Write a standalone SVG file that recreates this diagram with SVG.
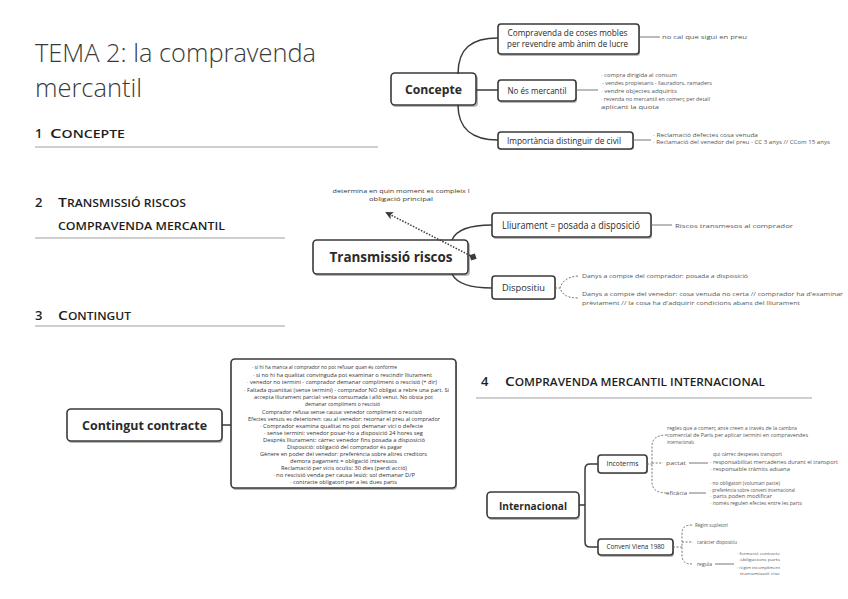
<svg xmlns="http://www.w3.org/2000/svg" width="848" height="599" viewBox="0 0 848 599">
<style>
.title{font-family:"Open Sans","Liberation Sans",sans-serif;font-weight:300;font-size:25px;fill:#3a3a3a}
.h{font-family:"Open Sans","Liberation Sans",sans-serif;font-weight:600;fill:#1e1e1e}
.rule{stroke:#a0a0a0;stroke-width:1.2}
.box{fill:#fff;stroke:#3a3a3a;stroke-width:1.6}
.sh{fill:#b8b8b8}
.lbl{font-family:"Open Sans","Liberation Sans",sans-serif;fill:#2a2a2a;text-anchor:middle}
.b{font-weight:700}
.note{font-family:"Open Sans","Liberation Sans",sans-serif;fill:#555;font-size:5.6px}
.sm{font-size:4.6px}
.xs{font-size:4px}
.body{font-family:"Open Sans","Liberation Sans",sans-serif;fill:#333;font-size:5.6px;text-anchor:middle}
.conn{fill:none;stroke:#3a3a3a;stroke-width:1.5}
.thin{fill:none;stroke:#666;stroke-width:0.9}
.dash{fill:none;stroke:#666;stroke-width:0.9;stroke-dasharray:2 1.6}
</style>
<defs>
<marker id="arr" markerWidth="8" markerHeight="8" refX="6" refY="4" orient="auto" markerUnits="userSpaceOnUse">
<path d="M0,0 L8,4 L0,8 L2,4 Z" fill="#3a3a3a"/>
</marker>
<marker id="dot" markerWidth="8" markerHeight="8" refX="4" refY="4" orient="auto" markerUnits="userSpaceOnUse">
<path d="M4,0 L8,4 L4,8 L0,4 Z" fill="#3a3a3a"/>
</marker>
</defs>

<!-- Page text -->
<g id="page">
<text class="title" x="35" y="62" textLength="281" lengthAdjust="spacingAndGlyphs">TEMA 2: la compravenda</text>
<text class="title" x="35" y="97" textLength="107" lengthAdjust="spacingAndGlyphs">mercantil</text>

<text class="h" x="35" y="138" font-size="13">1</text>
<text class="h" x="50" y="138" textLength="75" lengthAdjust="spacingAndGlyphs"><tspan font-size="13">C</tspan><tspan font-size="10">ONCEPTE</tspan></text>
<line class="rule" x1="35" y1="147" x2="378" y2="147"/>

<text class="h" x="35" y="207" font-size="13">2</text>
<text class="h" x="58" y="207" textLength="128" lengthAdjust="spacingAndGlyphs"><tspan font-size="13">T</tspan><tspan font-size="10">RANSMISSIÓ RISCOS</tspan></text>
<text class="h" x="58" y="230" font-size="10" textLength="167" lengthAdjust="spacingAndGlyphs">COMPRAVENDA MERCANTIL</text>
<line class="rule" x1="35" y1="238" x2="285" y2="238"/>

<text class="h" x="35" y="320" font-size="13">3</text>
<text class="h" x="58" y="320" textLength="73" lengthAdjust="spacingAndGlyphs"><tspan font-size="13">C</tspan><tspan font-size="10">ONTINGUT</tspan></text>
<line class="rule" x1="35" y1="326" x2="285" y2="326"/>

<text class="h" x="481" y="386" font-size="13">4</text>
<text class="h" x="505" y="386" textLength="260" lengthAdjust="spacingAndGlyphs"><tspan font-size="13">C</tspan><tspan font-size="10">OMPRAVENDA MERCANTIL INTERNACIONAL</tspan></text>
<line class="rule" x1="476" y1="398" x2="812" y2="398"/>
</g>

<!-- Concepte -->
<g id="concepte">
<rect class="sh" x="392" y="75" width="86" height="32" rx="4"/>
<rect class="box" x="391" y="73" width="85" height="32" rx="4"/>
<text class="lbl b" x="433.5" y="94" font-size="13" textLength="57" lengthAdjust="spacingAndGlyphs">Concepte</text>
</g>
<g id="compravenda-coses">
<rect class="sh" x="499" y="25" width="141" height="31" rx="3"/>
<rect class="box" x="498" y="24" width="141" height="30" rx="3"/>
<text class="lbl" x="567.5" y="36" font-size="8.5" textLength="120" lengthAdjust="spacingAndGlyphs">Compravenda de coses mobles</text>
<text class="lbl" x="567.5" y="47" font-size="8.5" textLength="121" lengthAdjust="spacingAndGlyphs">per revendre amb ànim de lucre</text>
<text class="note" x="662" y="39" textLength="85" lengthAdjust="spacingAndGlyphs">no cal que sigui en preu</text>
</g>
<g id="no-es-mercantil">
<rect class="sh" x="499" y="81" width="78" height="22" rx="3"/>
<rect class="box" x="498" y="80" width="78" height="21" rx="3"/>
<text class="lbl" x="537" y="93.5" font-size="8.5" textLength="59" lengthAdjust="spacingAndGlyphs">No és mercantil</text>
<text class="note" x="601" y="77" textLength="76" lengthAdjust="spacingAndGlyphs">· compra dirigida al consum</text>
<text class="note" x="602" y="85" textLength="110" lengthAdjust="spacingAndGlyphs">- vendes propietaris - llauradors, ramaders</text>
<text class="note" x="601" y="93" textLength="76" lengthAdjust="spacingAndGlyphs">· vendre objectes adquirits</text>
<text class="note" x="601" y="101" textLength="109" lengthAdjust="spacingAndGlyphs">· revenda no mercantil en comerç per detall</text>
<text class="note" x="601" y="109" textLength="58" lengthAdjust="spacingAndGlyphs">aplicant la quota</text>
</g>
<g id="importancia">
<rect class="sh" x="499" y="133" width="135" height="17" rx="3"/>
<rect class="box" x="498" y="132" width="135" height="17" rx="3"/>
<text class="lbl" x="564" y="143.5" font-size="8.5" textLength="114" lengthAdjust="spacingAndGlyphs">Importància distinguir de civil</text>
<text class="note" x="653" y="137" textLength="105" lengthAdjust="spacingAndGlyphs">· Reclamació defectes cosa venuda</text>
<text class="note" x="653" y="144" textLength="177" lengthAdjust="spacingAndGlyphs">· Reclamació del venedor del preu - CC 3 anys // CCom 15 anys</text>
</g>

<!-- Transmissió riscos -->
<g id="transmissio">
<rect class="sh" x="314" y="242" width="156" height="34" rx="4"/>
<rect class="box" x="313" y="240" width="155" height="34" rx="4"/>
<text class="lbl b" x="391" y="262" font-size="15" textLength="123" lengthAdjust="spacingAndGlyphs">Transmissió riscos</text>
</g>
<g id="nota-obligacio">
<text class="body" x="401" y="193" font-size="6.5" textLength="137" lengthAdjust="spacingAndGlyphs">determina en quin moment es compleix l</text>
<text class="body" x="401" y="201" font-size="6.5" textLength="64" lengthAdjust="spacingAndGlyphs">obligació principal</text>
</g>
<g id="lliurament">
<rect class="sh" x="493" y="214" width="159" height="25" rx="3"/>
<rect class="box" x="492" y="213" width="159" height="24" rx="3"/>
<text class="lbl" x="571" y="228.5" font-size="10" textLength="138" lengthAdjust="spacingAndGlyphs">Lliurament = posada a disposició</text>
<text class="note" x="675" y="228" textLength="118" lengthAdjust="spacingAndGlyphs">Riscos transmesos al comprador</text>
</g>
<g id="dispositiu">
<rect class="sh" x="493" y="277" width="63" height="23" rx="3"/>
<rect class="box" x="492" y="276" width="63" height="23" rx="3"/>
<text class="lbl" x="523.5" y="291" font-size="9.5" textLength="43" lengthAdjust="spacingAndGlyphs">Dispositiu</text>
<text class="note" x="582" y="278" textLength="166" lengthAdjust="spacingAndGlyphs">Danys a compte del comprador: posada a disposició</text>
<text class="note" x="582" y="296" textLength="261" lengthAdjust="spacingAndGlyphs">Danys a compte del venedor: cosa venuda no certa // comprador ha d'examinar</text>
<text class="note" x="582" y="305" textLength="218" lengthAdjust="spacingAndGlyphs">prèviament // la cosa ha d'adquirir condicions abans del lliurament</text>
</g>

<!-- Contingut -->
<g id="contingut">
<rect class="sh" x="68" y="411" width="155" height="32" rx="4"/>
<rect class="box" x="67" y="409" width="155" height="32" rx="4"/>
<text class="lbl b" x="144.5" y="430" font-size="13" textLength="125" lengthAdjust="spacingAndGlyphs">Contingut contracte</text>
</g>
<g id="contingut-detall">
<rect class="sh" x="232" y="360" width="225" height="130" rx="4"/>
<rect class="box" x="231" y="359" width="225" height="129" rx="4"/>
<text class="body" x="324.5" y="369.3" textLength="145" lengthAdjust="spacingAndGlyphs">· si hi ha manca al comprador no pot refusar quan és conforme</text>
<text class="body" x="342.5" y="377" textLength="179" lengthAdjust="spacingAndGlyphs">· si no hi ha qualitat convinguda pot examinar o rescindir lliurament</text>
<text class="body" x="342" y="384.3" textLength="190" lengthAdjust="spacingAndGlyphs">· venedor no termini - comprador demanar compliment o rescisió (+ dir)</text>
<text class="body" x="346.5" y="392" textLength="205" lengthAdjust="spacingAndGlyphs">· Faltada quantitat (sense termini) - comprador NO obligat a rebre una part. Si</text>
<text class="body" x="343.5" y="399.3" textLength="179" lengthAdjust="spacingAndGlyphs">accepta lliurament parcial: venta consumada i allò venut. No obsta pot</text>
<text class="body" x="342.5" y="406" textLength="75" lengthAdjust="spacingAndGlyphs">demanar compliment o rescisió</text>
<text class="body" x="342" y="414.3" textLength="160" lengthAdjust="spacingAndGlyphs">Comprador refusa sense causa: venedor compliment o rescisió</text>
<text class="body" x="344" y="421.3" textLength="192" lengthAdjust="spacingAndGlyphs">Efectes venuts es deterioren: cau al venedor: retornar el preu al comprador</text>
<text class="body" x="341.5" y="428" textLength="163" lengthAdjust="spacingAndGlyphs">· Comprador examina qualitat no pot demanar vici o defecte</text>
<text class="body" x="343.5" y="435.3" textLength="159" lengthAdjust="spacingAndGlyphs">· sense termini: venedor posar-ho a disposició 24 hores seg</text>
<text class="body" x="344" y="442" textLength="162" lengthAdjust="spacingAndGlyphs">Després lliurament: càrrec venedor fins posada a disposició</text>
<text class="body" x="344.5" y="449.3" textLength="115" lengthAdjust="spacingAndGlyphs">Disposició: obligació del comprador és pagar</text>
<text class="body" x="343.5" y="456" textLength="167" lengthAdjust="spacingAndGlyphs">Gènere en poder del venedor: preferència sobre altres creditors</text>
<text class="body" x="343.5" y="462.7" textLength="107" lengthAdjust="spacingAndGlyphs">demora pagament = obligació interessos</text>
<text class="body" x="344" y="470.3" textLength="126" lengthAdjust="spacingAndGlyphs">Reclamació per vicis ocults: 30 dies (perdi acció)</text>
<text class="body" x="344" y="477" textLength="142" lengthAdjust="spacingAndGlyphs">· no rescisió venda per causa lesió: sol demanar D/P</text>
<text class="body" x="343.5" y="483.7" textLength="107" lengthAdjust="spacingAndGlyphs">· contracte obligatori per a les dues parts</text>
</g>

<!-- Internacional -->
<g id="internacional">
<rect class="sh" x="488" y="493" width="92" height="27" rx="4"/>
<rect class="box" x="487" y="492" width="92" height="26" rx="4"/>
<text class="lbl b" x="533" y="509.5" font-size="11" textLength="68" lengthAdjust="spacingAndGlyphs">Internacional</text>
</g>
<g id="incoterms">
<rect class="sh" x="599" y="456" width="49" height="18" rx="3"/>
<rect class="box" x="598" y="455" width="49" height="18" rx="3"/>
<text class="lbl" x="622.5" y="466.2" font-size="6.5" textLength="32" lengthAdjust="spacingAndGlyphs">Incoterms</text>
<text class="note" x="667" y="430" textLength="130" lengthAdjust="spacingAndGlyphs">regles que a comerç ante creen a través de la cambra</text>
<text class="note" x="667" y="437" textLength="141" lengthAdjust="spacingAndGlyphs">comercial de París per aplicar termini en compravendes</text>
<text class="note" x="667" y="444" textLength="27" lengthAdjust="spacingAndGlyphs">internacionals</text>
<text class="note" x="666" y="465" textLength="20" lengthAdjust="spacingAndGlyphs">pactat</text>
<text class="note sm" x="713" y="456" textLength="69" lengthAdjust="spacingAndGlyphs">qui càrrec despeses transport</text>
<text class="note sm" x="710" y="464" textLength="128" lengthAdjust="spacingAndGlyphs">· responsabilitat mercaderies durant el transport</text>
<text class="note sm" x="710" y="471" textLength="80" lengthAdjust="spacingAndGlyphs">· responsable tràmits aduana</text>
<text class="note" x="666" y="495" textLength="21" lengthAdjust="spacingAndGlyphs">eficàcia</text>
<text class="note sm" x="710" y="485" textLength="70" lengthAdjust="spacingAndGlyphs">· no obligatori (voluntari pacte)</text>
<text class="note sm" x="710" y="491.5" textLength="85" lengthAdjust="spacingAndGlyphs">· preferència sobre conveni internacional</text>
<text class="note sm" x="710" y="498" textLength="62" lengthAdjust="spacingAndGlyphs">· parts poden modificar</text>
<text class="note sm" x="710" y="504.5" textLength="92" lengthAdjust="spacingAndGlyphs">· només regulen efectes entre les parts</text>
</g>
<g id="conveni-viena">
<rect class="sh" x="599" y="540" width="75" height="17" rx="3"/>
<rect class="box" x="598" y="539" width="75" height="16" rx="3"/>
<text class="lbl" x="635.5" y="549.3" font-size="6.5" textLength="58" lengthAdjust="spacingAndGlyphs">Conveni Viena 1980</text>
<text class="note" x="695" y="527" textLength="33" lengthAdjust="spacingAndGlyphs">Règim supletori</text>
<text class="note" x="697" y="544" textLength="40" lengthAdjust="spacingAndGlyphs">caràcter dispositiu</text>
<text class="note" x="697" y="566" textLength="15" lengthAdjust="spacingAndGlyphs">regula</text>
<text class="note xs" x="737" y="554.5" textLength="43" lengthAdjust="spacingAndGlyphs">· formació contracte</text>
<text class="note xs" x="740" y="560.5" textLength="40" lengthAdjust="spacingAndGlyphs">obligacions parts</text>
<text class="note xs" x="737" y="568.5" textLength="43" lengthAdjust="spacingAndGlyphs">· règim incompliment</text>
<text class="note xs" x="740" y="574.5" textLength="40" lengthAdjust="spacingAndGlyphs">transmissió risc</text>
</g>

<!-- Connectors -->
<g id="connectors">
<path class="conn" d="M458,74 C458,48 472,38 498,38"/>
<path class="conn" d="M476,90 L498,90"/>
<path class="conn" d="M458,105 C458,128 472,140 498,140"/>
<path class="thin" d="M639,37 L660,37"/>
<path class="thin" d="M576,90 L598,90"/>
<path class="thin" d="M633,140 L651,140"/>

<path class="conn" d="M452,240 C456,230 468,225 492,225"/>
<path class="conn" d="M452,274 C456,282 468,288 492,288"/>
<path class="thin" d="M651,225 L672,225"/>
<path class="dash" d="M555,288 L560,288 M578,276 C566,277 562,282 560,288 C562,294 566,298 578,298"/>
<path fill="none" stroke="#3a3a3a" stroke-width="1.5" stroke-dasharray="1.5 1.5" d="M473,257 L387,213" marker-start="url(#dot)" marker-end="url(#arr)"/>

<path class="conn" d="M222,425 L231,425"/>

<path class="conn" d="M579,505 L585,505 M598,464 L590,464 Q585,464 585,469 L585,542 Q585,547 590,547 L598,547"/>
<path class="dash" d="M647,464 L652,464 M667,435 Q652,435 652,446 L652,482 Q652,493 667,493 M652,463 L663,463"/>
<path class="thin" d="M689,463 L708,463"/>
<path class="thin" d="M689,493 L706,493"/>
<path class="dash" d="M673,547 L682,547 M692,525 Q682,525 682,533 L682,556 Q682,564 692,564 M682,542 L693,542"/>
<path class="thin" d="M715,564 L734,564"/>
</g>
</svg>
